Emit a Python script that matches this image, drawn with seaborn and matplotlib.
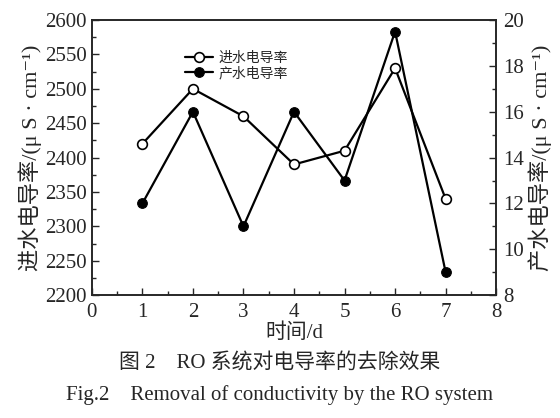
import seaborn as sns
import matplotlib.pyplot as plt
import pandas as pd

# data
days = [1, 2, 3, 4, 5, 6, 7]
inflow = [2420, 2500, 2460, 2390, 2410, 2530, 2340]   # 进水电导率, left axis
outflow = [12, 16, 11, 16, 13, 19.5, 9]               # 产水电导率, right axis

df = pd.DataFrame({"day": days, "inflow": inflow, "outflow": outflow})

sns.set_style("ticks")
fam = ["Liberation Serif", "Noto Sans CJK SC", "DejaVu Sans"]
plt.rcParams["font.family"] = fam
plt.rcParams["xtick.direction"] = "in"
plt.rcParams["ytick.direction"] = "in"

fig = plt.figure(figsize=(5.6, 4.18), dpi=100)
ax = fig.add_axes([0.164, 0.294, 0.722, 0.658])
ax2 = ax.twinx()

sns.lineplot(data=df, x="day", y="inflow", ax=ax, color="black", lw=1.6,
             marker="o", markersize=7, markerfacecolor="white",
             markeredgecolor="black", markeredgewidth=1.2, label="进水电导率", legend=False)
sns.lineplot(data=df, x="day", y="outflow", ax=ax2, color="black", lw=1.6,
             marker="o", markersize=7, markerfacecolor="black",
             markeredgecolor="black", label="产水电导率", legend=False)

ax.set_xlim(0, 8)
ax.set_ylim(2200, 2600)
ax2.set_ylim(8, 20)
ax.set_xticks(range(0, 9))
ax.set_xticks([i + 0.5 for i in range(8)], minor=True)
ax.set_yticks(range(2200, 2601, 50))
ax.set_yticks(range(2225, 2600, 50), minor=True)
ax2.set_yticks(range(8, 21, 2))
ax2.set_yticks(range(9, 20, 2), minor=True)

for a in (ax, ax2):
    a.tick_params(which="both", direction="in", labelsize=15, width=1)
    a.tick_params(which="major", length=5)
    a.tick_params(which="minor", length=3)
    for s in a.spines.values():
        s.set_linewidth(1.2)
ax.tick_params(top=False, which="both")
ax.tick_params(axis="x", pad=6)
ax2.tick_params(axis="y", pad=5)

ax.set_xlabel("时间/d", fontsize=15, labelpad=1)
ax.set_ylabel("进水电导率/(μ S · cm⁻¹)", fontsize=16, labelpad=2)
ax2.set_ylabel("产水电导率/(μ S · cm⁻¹)", fontsize=16, labelpad=3)
ax2.yaxis.label.set_rotation(90)

h1, l1 = ax.get_legend_handles_labels()
h2, l2 = ax2.get_legend_handles_labels()
ax.legend(h1 + h2, l1 + l2, loc="upper left", bbox_to_anchor=(0.2, 0.93),
          frameon=False, fontsize=10, handlelength=2.0, labelspacing=0.1,
          handletextpad=0.4)

fig.text(0.5, 0.132, "图 2    RO 系统对电导率的去除效果", ha="center", va="center", fontsize=15)
fig.text(0.5, 0.055, "Fig.2    Removal of conductivity by the RO system", ha="center",
         va="center", fontsize=15)

fig.savefig("out.png", dpi=100)
